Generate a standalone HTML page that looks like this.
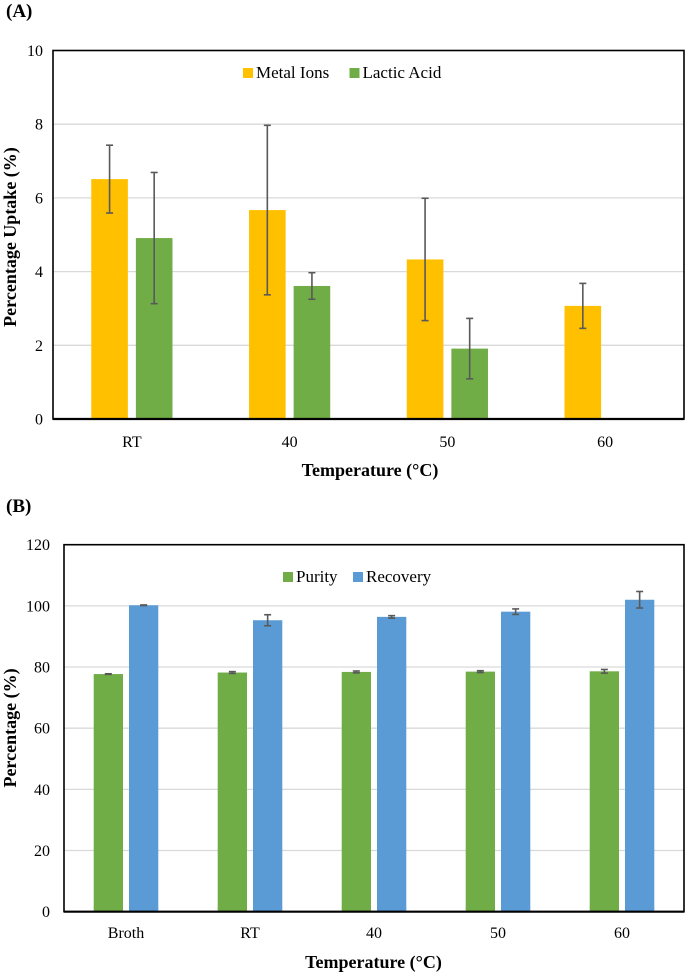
<!DOCTYPE html>
<html><head><meta charset="utf-8"><style>
html,body{margin:0;padding:0;background:#fff;}
svg{display:block;font-family:"Liberation Serif",serif;}
</style></head><body>
<svg id="c" width="685" height="972" xmlns="http://www.w3.org/2000/svg"></svg>
<script>
const catsA = ["RT","40","50","60"];
const metalVals = [6.51,5.67,4.33,3.07];
const metalErr = [0.92,2.30,1.66,0.61];
const lacticVals = [4.91,3.61,1.91,null];
const lacticErr = [1.78,0.36,0.82,null];
const ticksA = [0,2,4,6,8,10];

const catsB = ["Broth","RT","40","50","60"];
const purityVals = [77.7,78.2,78.4,78.5,78.6];
const purityErr = [0.1,0.3,0.3,0.3,0.6];
const recoveryVals = [100.2,95.3,96.4,98.1,102.0];
const recoveryErr = [0.1,1.8,0.4,0.9,2.7];
const ticksB = [0,20,40,60,80,100,120];

const svg = document.getElementById('c');
const NS = 'http://www.w3.org/2000/svg';
function mk(tag, attrs, parent){
  const e = document.createElementNS(NS, tag);
  for (const k in attrs) e.setAttribute(k, attrs[k]);
  (parent||svg).appendChild(e);
  return e;
}
function txt(s, attrs, parent){ const e = mk('text', attrs, parent); e.textContent = s; return e; }

function chart(cfg){
  const g = mk('g', {});
  
  
  const {L,R,T,B,max,ticks,cats,series} = cfg;
  const y = v => B - (v/max)*(B-T);
  const bandW = (R-L)/cats.length;
  const xc = i => L + bandW*(i+0.5);
  ticks.forEach(t => {
    if (t>0 && t<max) {
      const gl = mk('line', {x1:L,x2:R,y1:y(t),y2:y(t),stroke:'#d9d9d9','stroke-width':1.3}, g);
      
      
    }
    const tl = txt(String(t), {x:cfg.tickX,y:y(t)+5.5,'text-anchor':'end','font-size':16}, g);
    
    
  });
  const n = series.length;
  const total = n*cfg.barW + (n-1)*cfg.gap;
  cats.forEach((c,i) => {
    series.forEach((s,j) => {
      const v = s.vals[i];
      if (v==null) return;
      const bx = xc(i) - total/2 + j*(cfg.barW+cfg.gap);
      const r = mk('rect', {x:bx,y:y(v),width:cfg.barW,height:B-y(v),fill:s.color}, g);
      
      
      const e = s.err[i];
      if (e) {
        const cx = bx + cfg.barW/2;
        const eg = mk('g', {stroke:'#595959','stroke-width':1.6}, g);
        
        
        mk('line',{x1:cx,x2:cx,y1:y(v+e),y2:y(v-e)},eg);
        mk('line',{x1:cx-3.5,x2:cx+3.5,y1:y(v+e),y2:y(v+e)},eg);
        mk('line',{x1:cx-3.5,x2:cx+3.5,y1:y(v-e),y2:y(v-e)},eg);
      }
    });
    const xl = txt(c, {x:xc(i),y:cfg.xLabelY,'text-anchor':'middle','font-size':16}, g);
    
    
  });
  const fr = mk('rect', {x:L,y:T,width:R-L,height:B-T,fill:'none',stroke:'#000','stroke-width':1.6}, g);
  
  
  const ax = mk('line', {x1:L,x2:R,y1:B,y2:B,stroke:'#000','stroke-width':2.2}, g);
  
  
  // legend
  series.forEach(s => {
    const lg = mk('g', {}, g);
    
    
    mk('rect', {x:s.lx,y:cfg.legY-10,width:10,height:10,fill:s.color}, lg);
    txt(s.label, {x:s.lx+13,y:cfg.legY,'font-size':17}, lg);
  });
  const xt = txt(cfg.xTitle, {x:cfg.xTitleX,y:cfg.xTitleY,'text-anchor':'middle','font-size':18,'font-weight':'bold'}, g);
  
  
  const yt = txt(cfg.yTitle, {x:0,y:0,'text-anchor':'middle','font-size':18,'font-weight':'bold',transform:'translate('+cfg.yTitleX+','+cfg.yTitleY+') rotate(-90)'}, g);
  
  
  const pl = txt(cfg.panel, {x:6,y:cfg.panelY,'font-size':19,'font-weight':'bold'}, g);
  
  
}

chart({name:'chart-a-uptake',L:53,R:684,T:50.5,B:419,max:10,ticks:ticksA,cats:catsA,barW:36.6,gap:8,
  tickX:43,xLabelY:447,legY:78,xTitle:'Temperature (°C)',xTitleX:370,xTitleY:476,
  yTitle:'Percentage Uptake (%)',yTitleX:16,yTitleY:237,panel:'(A)',panelY:17,
  series:[{key:'metal-ions',label:'Metal Ions',vals:metalVals,err:metalErr,color:'#ffc000',lx:243},
          {key:'lactic-acid',label:'Lactic Acid',vals:lacticVals,err:lacticErr,color:'#70ad47',lx:349.5}]});

chart({name:'chart-b-purity-recovery',L:64,R:684,T:544.7,B:911.7,max:120,ticks:ticksB,cats:catsB,barW:29.3,gap:6,
  tickX:50,xLabelY:938,legY:582,xTitle:'Temperature (°C)',xTitleX:373.5,xTitleY:968,
  yTitle:'Percentage (%)',yTitleX:16,yTitleY:728,panel:'(B)',panelY:512,
  series:[{key:'purity',label:'Purity',vals:purityVals,err:purityErr,color:'#70ad47',lx:283},
          {key:'recovery',label:'Recovery',vals:recoveryVals,err:recoveryErr,color:'#5b9bd5',lx:353}]});
</script>
</body></html>
